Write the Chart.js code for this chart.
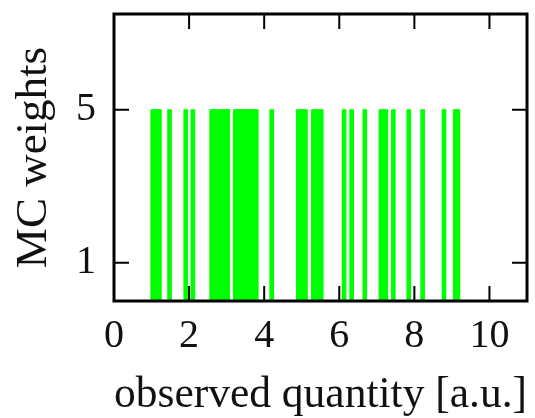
<!DOCTYPE html>
<html><head><meta charset="utf-8">
<script src="https://cdn.jsdelivr.net/npm/chart.js@4.4.1/dist/chart.umd.min.js"></script>
<style>html,body{margin:0;padding:0;background:#fff}#wrap{width:535px;height:418px}</style>
</head><body><div id="wrap"><canvas id="c" width="535" height="418"></canvas></div>
<script>
// event positions (observed quantity) and their MC weights
const eventPositions = [1.03, 1.10, 1.15, 1.21, 1.48, 1.91, 2.10,
  2.60, 2.66, 2.71, 2.83, 2.90, 2.97, 3.03,
  3.23, 3.30, 3.36, 3.42, 3.48, 3.55, 3.61, 3.67, 3.73, 3.79,
  4.20, 4.91, 4.98, 5.05, 5.10, 5.31, 5.38, 5.45, 5.52,
  6.13, 6.33, 6.68, 7.11, 7.18, 7.24, 7.44, 7.85, 8.22, 8.79, 9.09, 9.16];
const eventWeights = [5, 5, 5, 5, 5, 5, 5,
  5, 5, 5, 5, 5, 5, 5,
  5, 5, 5, 5, 5, 5, 5, 5, 5, 5,
  5, 5, 5, 5, 5, 5, 5, 5, 5,
  5, 5, 5, 5, 5, 5, 5, 5, 5, 5, 5, 5];
const xTickValues = [0, 2, 4, 6, 8, 10];
const yTickValues = [1, 5];
const xTitle = 'observed quantity [a.u.]';
const yTitle = 'MC weights';

const points = eventPositions.map((x, i) => ({x: x, y: eventWeights[i]}));
const FONT = "'Liberation Serif', 'DejaVu Serif', serif";

const framePlugin = {
  id: 'frame',
  afterDraw(chart) {
    const {ctx, chartArea: a, scales} = chart;
    ctx.save();
    ctx.strokeStyle = '#000';
    ctx.lineWidth = 2;
    const L = 15;
    ctx.beginPath();
    xTickValues.forEach(v => {
      const p = scales.x.getPixelForValue(v);
      ctx.moveTo(p, a.bottom); ctx.lineTo(p, a.bottom - L);
      ctx.moveTo(p, a.top); ctx.lineTo(p, a.top + L);
    });
    yTickValues.forEach(v => {
      const p = scales.y.getPixelForValue(v);
      ctx.moveTo(a.left, p); ctx.lineTo(a.left + L, p);
      ctx.moveTo(a.right, p); ctx.lineTo(a.right - L, p);
    });
    ctx.stroke();
    ctx.lineWidth = 3;
    ctx.strokeRect(a.left, a.top, a.right - a.left, a.bottom - a.top);
    ctx.restore();
  }
};

new Chart(document.getElementById('c'), {
  type: 'bar',
  data: {
    datasets: [{
      data: points,
      backgroundColor: '#00ff00',
      borderWidth: 0,
      barThickness: 4,
      grouped: false
    }]
  },
  options: {
    responsive: false,
    animation: false,
    devicePixelRatio: 1,
    layout: {padding: {top: 14, right: 8, left: 0, bottom: 0}},
    plugins: {legend: {display: false}, tooltip: {enabled: false}},
    scales: {
      x: {
        type: 'linear',
        min: 0, max: 11,
        offset: false,
        grid: {display: false, drawTicks: false, offset: false},
        border: {display: false},
        afterBuildTicks: s => { s.ticks = xTickValues.map(v => ({value: v})); },
        afterFit: s => { s.height = 117; s.paddingLeft = 0; s.paddingRight = 0; },
        ticks: {color: '#111', font: {family: FONT, size: 40}, padding: 11, maxRotation: 0, autoSkip: false},
        title: {display: true, text: xTitle, color: '#111', font: {family: FONT, size: 45}, padding: {top: 0, bottom: -4}}
      },
      y: {
        type: 'linear',
        min: 0, max: 7.5,
        grid: {display: false, drawTicks: false},
        border: {display: false},
        afterBuildTicks: s => { s.ticks = yTickValues.map(v => ({value: v})); },
        afterFit: s => { s.width = 114; s.paddingTop = 0; s.paddingBottom = 0; },
        ticks: {color: '#111', font: {family: FONT, size: 40}, padding: 18, autoSkip: false},
        title: {display: true, text: yTitle, color: '#111', font: {family: FONT, size: 45}, padding: {top: 7, bottom: 0}}
      }
    }
  },
  plugins: [framePlugin]
});
</script>
</body></html>
